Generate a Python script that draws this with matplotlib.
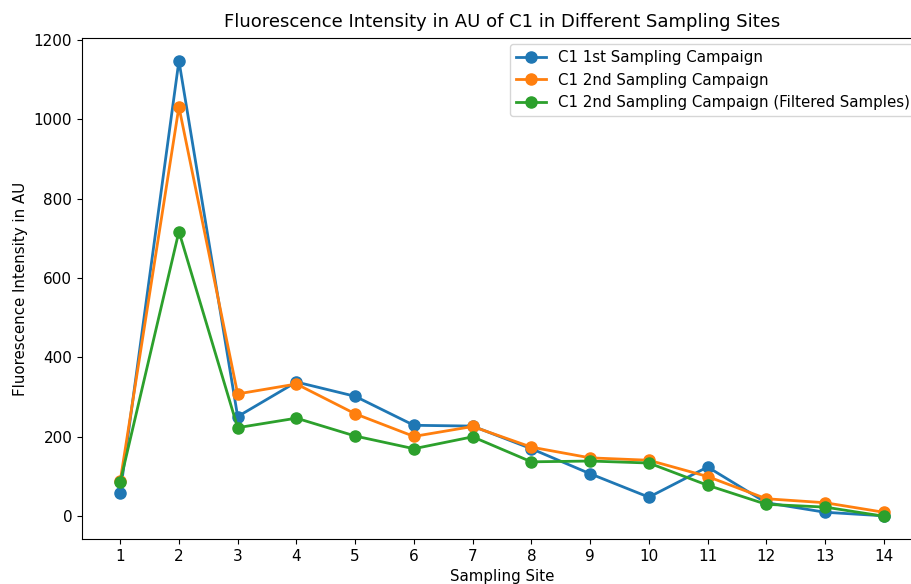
import matplotlib
matplotlib.use('Agg')
import matplotlib.pyplot as plt

# fluorescence of component C1 per sampling site
sites = list(range(1, 15))
c1_first = [58, 1147, 251, 338, 302, 229, 227, 170, 107, 48, 124, 34, 10, 1]
c1_second = [88, 1031, 308, 333, 258, 201, 226, 174, 147, 141, 100, 44, 34, 10]
c1_second_filtered = [86, 717, 223, 247, 202, 170, 200, 137, 139, 134, 78, 30, 23, 0]

plt.rcParams['font.size'] = 11

fig = plt.figure(figsize=(9.12, 5.84), dpi=100)
ax = fig.add_axes([82 / 912, 45 / 584, 840 / 912, 501 / 584])

style = dict(marker='o', markersize=8, linewidth=2)
ax.plot(sites, c1_first, label='C1 1st Sampling Campaign', **style)
ax.plot(sites, c1_second, label='C1 2nd Sampling Campaign', **style)
ax.plot(sites, c1_second_filtered,
        label='C1 2nd Sampling Campaign (Filtered Samples)', **style)

ax.set_xticks(sites)
ax.set_xlim(0.35, 14.65)
ax.spines['right'].set_visible(False)
ax.set_xlabel('Sampling Site', fontsize=10.8)
ax.set_ylabel('Fluorescence Intensity in AU', fontsize=10.8)
ax.set_title('Fluorescence Intensity in AU of C1 in Different Sampling Sites',
             fontsize=13, pad=8)
ax.legend(loc='upper right', fontsize=10.8, borderaxespad=0.4)

fig.savefig('out.png', dpi=100)
